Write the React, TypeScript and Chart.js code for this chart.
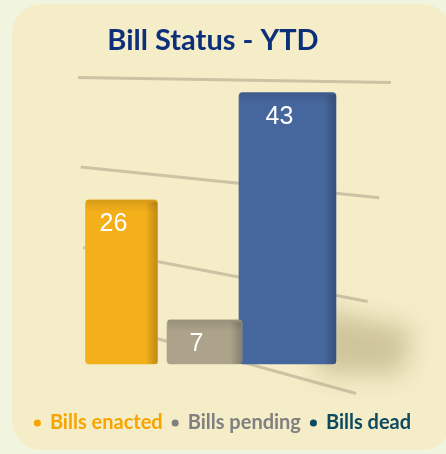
import React, { useEffect, useRef } from "react";
import { Chart, registerables } from "chart.js";

Chart.register(...registerables);

const titleText = "Bill Status - YTD";
const categories = ["Bills enacted", "Bills pending", "Bills dead"];
const values = [26, 7, 43];
const barColors = ["#f4b01b", "#ada38b", "#46679d"];
const legendColors = ["#f6a500", "#808080", "#0d4a60"];
const barWidths = [72, 75, 97];
const yTicksMax = 45;
const yTickStep = 15;

const gridPlugin = {
  id: "perspectiveGrid",
  beforeDatasetsDraw(chart: any) {
    const { ctx, chartArea, scales } = chart;
    const y = scales.y;
    const cx = (chartArea.left + chartArea.right + 60) / 2;
    ctx.save();
    ctx.strokeStyle = "#cdc2a4";
    ctx.lineWidth = 3;
    y.ticks.forEach((t: any) => {
      const f = (y.max - t.value) / y.max;
      const py = y.getPixelForValue(t.value) + 11 * Math.sin(Math.PI * f) - 4 * f;
      const slope = 0.016 + 0.26 * f;
      const x0 = chartArea.left - 2 + 8 * f;
      const x1 = chartArea.right + 62 - 35 * f;
      ctx.beginPath();
      ctx.moveTo(x0, py + (x0 - cx) * slope);
      ctx.lineTo(x1, py + (x1 - cx) * slope);
      ctx.stroke();
    });
    const metas = chart.getSortedVisibleDatasetMetas();
    metas.forEach((m: any) => {
      m.data.forEach((el: any) => {
        if (!el || el.y == null || isNaN(el.y)) return;
        if (el.base - el.y < 200) return;
        ctx.save();
        ctx.filter = "blur(12px)";
        ctx.fillStyle = "rgba(170,158,110,0.5)";
        ctx.beginPath();
        ctx.moveTo(el.x + 30, el.base - 55);
        ctx.lineTo(el.x + 125, el.base - 35);
        ctx.lineTo(el.x + 115, el.base + 10);
        ctx.lineTo(el.x + 30, el.base + 10);
        ctx.closePath();
        ctx.fill();
        ctx.restore();
      });
    });
    ctx.restore();
  },
};

const shadePlugin = {
  id: "barShade",
  afterDatasetsDraw(chart: any) {
    const { ctx } = chart;
    ctx.save();
    chart.getSortedVisibleDatasetMetas().forEach((m: any) => {
      m.data.forEach((el: any, i: number) => {
        const v = chart.data.datasets[m.index].data[i];
        if (v == null) return;
        const right = el.x + el.width / 2;
        const g = ctx.createLinearGradient(right - 12, 0, right, 0);
        g.addColorStop(0, "rgba(0,0,0,0)");
        g.addColorStop(1, "rgba(0,0,0,0.22)");
        ctx.fillStyle = g;
        ctx.fillRect(right - 12, el.y + 2, 12, el.base - el.y - 2);
        const g2 = ctx.createLinearGradient(0, el.y, 0, el.y + 12);
        g2.addColorStop(0, "rgba(0,0,0,0.12)");
        g2.addColorStop(1, "rgba(0,0,0,0)");
        ctx.fillStyle = g2;
        ctx.fillRect(el.x - el.width / 2 + 1, el.y, el.width - 2, 12);
      });
    });
    ctx.restore();
  },
};

const labelPlugin = {
  id: "barLabels",
  afterDatasetsDraw(chart: any) {
    const { ctx } = chart;
    ctx.save();
    ctx.fillStyle = "#ffffff";
    ctx.font = "25px 'Liberation Sans', Arial, sans-serif";
    ctx.textAlign = "center";
    ctx.textBaseline = "middle";
    chart.getSortedVisibleDatasetMetas().forEach((m: any) => {
      m.data.forEach((el: any, i: number) => {
        const v = chart.data.datasets[m.index].data[i];
        if (v == null) return;
        ctx.fillText(String(v), el.x - 8, el.y + 24);
      });
    });
    ctx.restore();
  },
};

const titlePlugin = {
  id: "offsetTitle",
  afterDraw(chart: any) {
    const { ctx } = chart;
    ctx.save();
    ctx.fillStyle = "#0c2f7a";
    ctx.font = "bold 29px Lato, sans-serif";
    ctx.textAlign = "center";
    ctx.textBaseline = "middle";
    ctx.fillText(titleText, 213, 41);
    ctx.restore();
  },
};

export default function App() {
  const ref = useRef<HTMLCanvasElement>(null);
  useEffect(() => {
    document.body.style.margin = "0";
    document.body.style.background = "#f1f4df";
    const datasets = categories.map((c, i) => ({
      label: c,
      data: categories.map((_, j) => (j === i ? values[i] : null)),
      backgroundColor: barColors[i],
      borderColor: barColors[i],
      borderWidth: 0,
      borderRadius: 4,
      borderSkipped: false,
      barThickness: barWidths[i],
      grouped: false,
      skipNull: true,
      clip: false,
    }));
    const chart = new Chart(ref.current!, {
      type: "bar",
      data: { labels: categories, datasets },
      options: {
        animation: false,
        responsive: false,
        layout: { padding: { top: 80, bottom: 11, left: 0, right: 0 } },
        scales: {
          x: {
            display: true,
            grid: { display: false },
            border: { display: false },
            ticks: { display: false },
            afterFit: (s: any) => {
              s.height = 39;
            },
          },
          y: {
            min: 0,
            max: yTicksMax,
            ticks: { display: false, stepSize: yTickStep },
            grid: { display: false },
            border: { display: false },
            afterFit: (s: any) => {
              s.width = 80;
            },
          },
          y2: {
            position: "right",
            display: true,
            min: 0,
            max: yTicksMax,
            ticks: { display: false },
            grid: { display: false },
            border: { display: false },
            afterFit: (s: any) => {
              s.width = 117;
            },
          },
        },
        plugins: {
          title: { display: false },
          tooltip: { enabled: false },
          legend: {
            position: "bottom",
            labels: {
              usePointStyle: true,
              pointStyle: "circle",
              boxWidth: 5,
              boxHeight: 5,
              padding: 10,
              font: { family: "Lato", size: 20, weight: "bold" },
              generateLabels: () =>
                categories.map((c, i) => ({
                  text: c,
                  fillStyle: legendColors[i],
                  strokeStyle: legendColors[i],
                  lineWidth: 0,
                  fontColor: legendColors[i],
                  pointStyle: "circle",
                  hidden: false,
                  datasetIndex: i,
                })),
            },
          },
        },
      },
      plugins: [gridPlugin, shadePlugin, labelPlugin, titlePlugin],
    } as any);
    return () => chart.destroy();
  }, []);

  return (
    <div style={{ position: "relative", width: 446, height: 454, overflow: "hidden" }}>
      <div
        style={{
          position: "absolute",
          left: 12,
          top: 4,
          width: 440,
          height: 446,
          borderRadius: 30,
          background: "#f5edc8",
        }}
      />
      <canvas ref={ref} width={446} height={454} style={{ position: "absolute", left: 0, top: 0 }} />
    </div>
  );
}
